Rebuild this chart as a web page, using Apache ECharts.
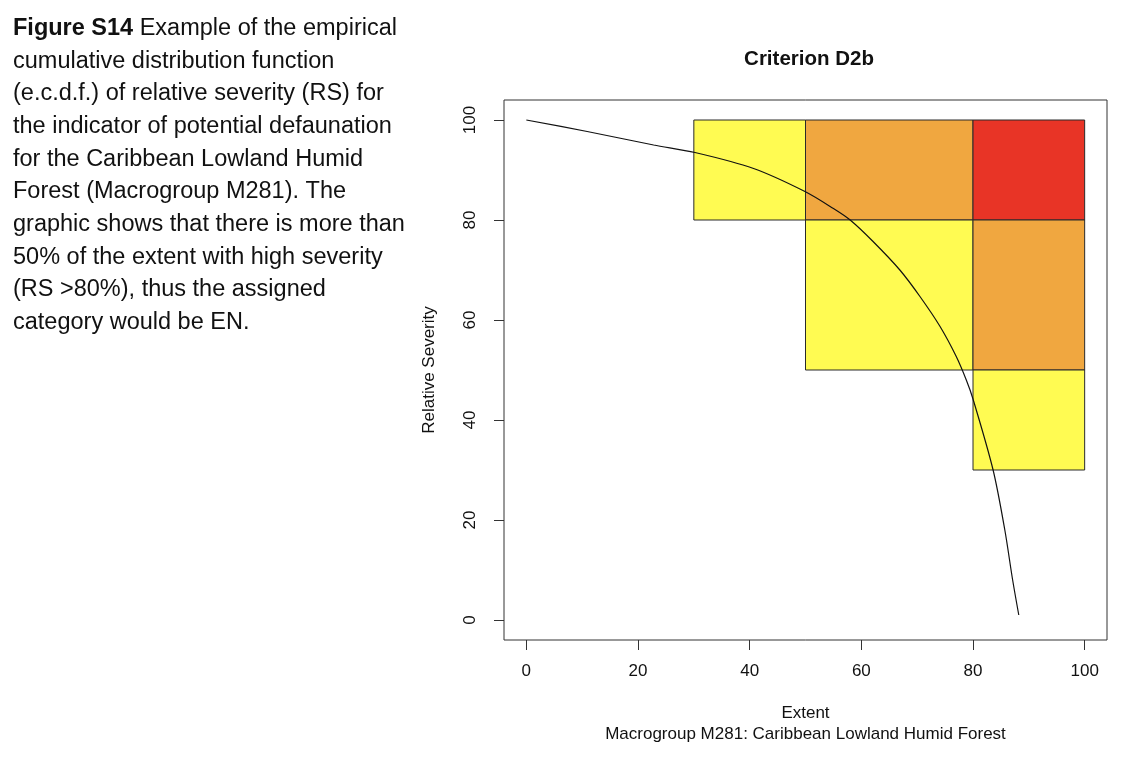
<!DOCTYPE html>
<html>
<head>
<meta charset="utf-8">
<title>Criterion D2b</title>
<script src="https://cdn.jsdelivr.net/npm/echarts@6/dist/echarts.min.js"></script>
<style>
  html, body { margin: 0; padding: 0; background: #fff; }
  #chart { width: 1128px; height: 766px; }
</style>
</head>
<body>
<div id="chart"></div>
<script>
// severity blocks (extent range x severity range), level: 0 yellow, 1 orange, 2 red
const blockX0 = [30, 50, 80, 50, 80, 80]
const blockX1 = [50, 80, 100, 80, 100, 100]
const blockY0 = [80, 80, 80, 50, 50, 30]
const blockY1 = [100, 100, 100, 80, 80, 50]
const blockLevel = [0, 1, 2, 0, 1, 0]
const levelColors = ['#fffb52', '#f0a740', '#e83426']

// e.c.d.f. curve
const curveExtent = [0, 10.9, 22.8, 30.2, 40.7, 49.9, 55, 58, 62.1, 66.9, 70.5, 74.1, 77, 78.8, 80, 83.6, 85.7, 87.1, 88.2]
const curveSeverity = [100, 97.7, 95, 93.5, 90.3, 85.7, 82.3, 80, 75.7, 70, 64.7, 58.7, 52.7, 48, 44.2, 30, 18, 8, 1]

const tickValues = [0, 20, 40, 60, 80, 100]

const caption = [
  '{b|Figure S14} Example of the empirical',
  'cumulative distribution function',
  '(e.c.d.f.) of relative severity (RS) for',
  'the indicator of potential defaunation',
  'for the Caribbean Lowland Humid',
  'Forest (Macrogroup M281). The',
  'graphic shows that there is more than',
  '50% of the extent with high severity',
  '(RS >80%), thus the assigned',
  'category would be EN.'
]

const myChart = echarts.init(document.getElementById('chart'))
const font = 'Liberation Sans, Arial, sans-serif'

const option = {
  backgroundColor: '#fff',
  animation: false,
  textStyle: { fontFamily: font },
  title: {
    text: 'Criterion D2b',
    left: 804,
    textAlign: 'center',
    top: 44,
    textStyle: { fontSize: 20.5, fontWeight: 'bold', color: '#111', fontFamily: font }
  },
  graphic: [{
    type: 'text',
    left: 13,
    top: 12,
    style: {
      text: caption.join('\n'),
      font: '23.5px ' + font,
      fill: '#111',
      lineHeight: 32.7,
      rich: {
        b: { fontWeight: 'bold', fontSize: 23.5, fontFamily: font, lineHeight: 32.7 }
      }
    }
  }],
  grid: {
    left: 504,
    right: 21,
    top: 100,
    bottom: 126,
    show: true,
    borderColor: '#333',
    borderWidth: 1,
    backgroundColor: 'transparent'
  },
  xAxis: {
    type: 'value',
    min: -4,
    max: 104,
    name: 'Extent\nMacrogroup M281: Caribbean Lowland Humid Forest',
    nameLocation: 'middle',
    nameGap: 63,
    nameTextStyle: { fontSize: 17, color: '#111', lineHeight: 21, fontFamily: font },
    axisLine: { show: false, onZero: false },
    splitLine: { show: false },
    axisTick: { show: true, length: 10, lineStyle: { color: '#333' }, customValues: tickValues },
    axisLabel: { fontSize: 17, color: '#111', margin: 23, customValues: tickValues }
  },
  yAxis: {
    type: 'value',
    min: -4,
    max: 104,
    name: 'Relative Severity',
    nameLocation: 'middle',
    nameGap: 66,
    nameTextStyle: { fontSize: 17, color: '#111', fontFamily: font },
    axisLine: { show: false, onZero: false },
    splitLine: { show: false },
    axisTick: { show: true, length: 10, lineStyle: { color: '#333' }, customValues: tickValues },
    axisLabel: { fontSize: 17, color: '#111', rotate: 90, margin: 25, customValues: tickValues }
  },
  series: [
    {
      type: 'custom',
      name: 'blocks',
      data: blockX0.map((x0, i) => [x0, blockX1[i], blockY0[i], blockY1[i], blockLevel[i]]),
      encode: { x: [0, 1], y: [2, 3] },
      renderItem: function (params, api) {
        const p0 = api.coord([api.value(0), api.value(3)])
        const p1 = api.coord([api.value(1), api.value(2)])
        return {
          type: 'rect',
          shape: { x: p0[0], y: p0[1], width: p1[0] - p0[0], height: p1[1] - p0[1] },
          style: { fill: levelColors[api.value(4)], stroke: '#2a2a2a', lineWidth: 1 }
        }
      },
      z: 1
    },
    {
      type: 'line',
      name: 'ecdf',
      data: curveExtent.map((x, i) => [x, curveSeverity[i]]),
      showSymbol: false,
      symbol: 'none',
      smooth: 0.3,
      lineStyle: { color: '#111', width: 1.2 },
      z: 2
    }
  ]
}

myChart.setOption(option)
</script>
</body>
</html>
